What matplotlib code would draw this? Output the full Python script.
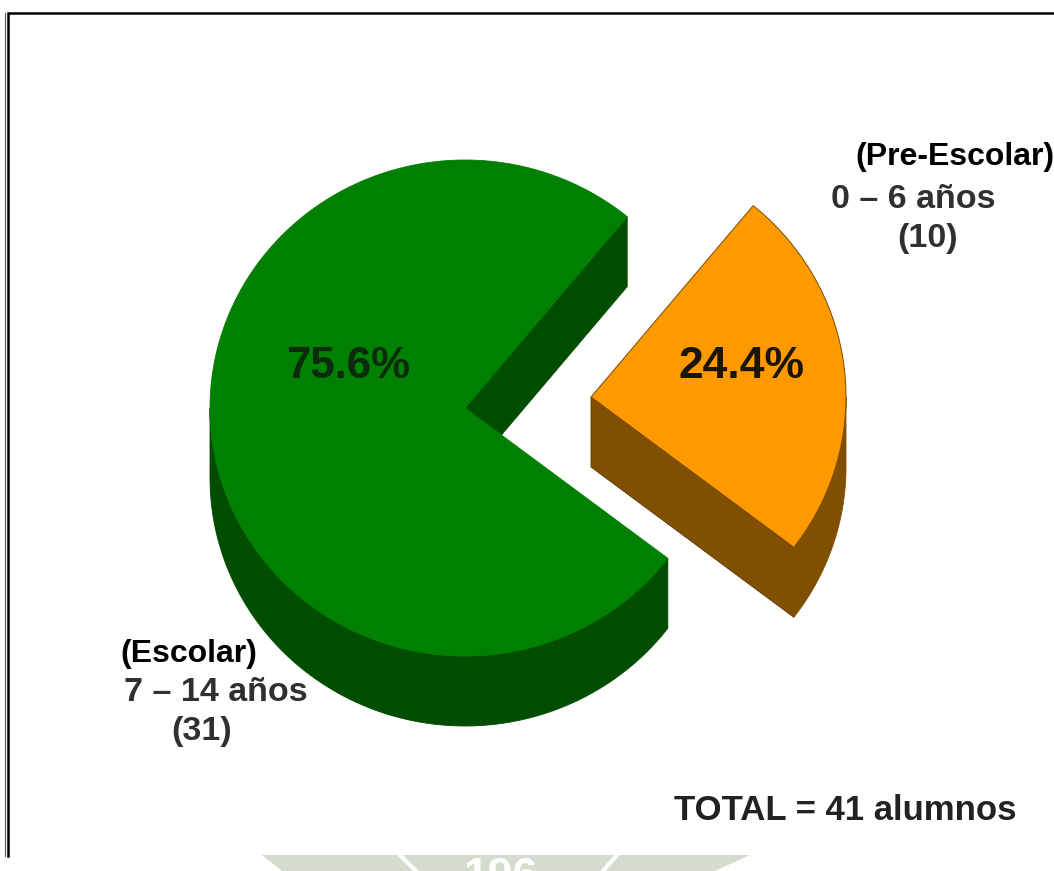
import numpy as np
import matplotlib
matplotlib.use("Agg")
import matplotlib.pyplot as plt
from matplotlib.patches import Polygon

plt.rcParams['font.family'] = ['Liberation Sans', 'DejaVu Sans']

# data
groups = ['Escolar', 'Pre-Escolar']
ages = ['7 – 14 años', '0 – 6 años']
counts = [31, 10]
total_label = 'TOTAL = 41 alumnos'

# pie geometry in pixels
rx, ry = 255, 248
depth = 70
start_angle = 50.5
green_center = (465, 408)
orange_center = (591, 397)


def arc(center, a0, a1, n=200):
    t = np.radians(np.linspace(a0, a1, n))
    return np.column_stack([center[0] + rx * np.cos(t), center[1] - ry * np.sin(t)])


def wall(center, a0, a1, color):
    # outer side of the slice, only the part facing the viewer
    pts = arc(center, a0, a1)
    low = pts + [0, depth]
    ax.add_patch(Polygon(np.vstack([pts, low[::-1]]), closed=True, fc=color, ec=color, lw=0.6))


def edge_wall(center, angle, color, ec):
    p = arc(center, angle, angle, 1)[0]
    c = np.array(center, dtype=float)
    ax.add_patch(Polygon([c, p, p + [0, depth], c + [0, depth]], closed=True, fc=color, ec=ec, lw=0.6))


fig = plt.figure(figsize=(10.54, 8.71), dpi=100)
ax = fig.add_axes([0, 0, 1, 1])
ax.set_xlim(0, 1054)
ax.set_ylim(871, 0)
ax.axis('off')

# frame, no right side, cut off at the bottom
ax.plot([1054, 8, 8], [13, 13, 856], color='black', lw=1.8, solid_joinstyle='miter')
ax.plot([5, 5], [13, 856], color='#555555', lw=0.8)

# page watermark showing under the frame
ax.add_patch(Polygon([(262, 855), (750, 855), (715, 871), (282, 871)], closed=True, fc='#d3dccd', ec='none'))
ax.plot([400, 416], [855, 871], color='white', lw=3)
ax.plot([617, 603], [855, 871], color='white', lw=3)
ax.text(500, 857, '196', fontsize=32, fontweight='bold', color='white', ha='center', va='top', clip_on=True)

angles = 360 * np.array(counts) / sum(counts)
green_end = start_angle + angles[0]
orange_end = green_end + angles[1]

# green slice
edge_wall(green_center, start_angle, '#004d00', '#004d00')
wall(green_center, 180, green_end, '#004d00')
top = np.vstack([[green_center], arc(green_center, start_angle, green_end, 400)])
ax.add_patch(Polygon(top, closed=True, fc='#008000', ec='#008000', lw=0.6))

# orange slice
edge_wall(orange_center, green_end, '#805000', '#5a3800')
wall(orange_center, green_end, 360, '#805000')
top = np.vstack([[orange_center], arc(orange_center, green_end, orange_end, 200)])
ax.add_patch(Polygon(top, closed=True, fc='#ff9900', ec='#7a4c00', lw=0.7))

# percentages
ax.text(348, 366, f'{100 * counts[0] / sum(counts):.1f}%', fontsize=31.5, fontweight='bold',
        color='#0c2a0c', ha='center', va='center')
ax.text(741, 366, f'{100 * counts[1] / sum(counts):.1f}%', fontsize=32, fontweight='bold',
        color='#1c1408', ha='center', va='center')

# labels
grey = '#303030'
ax.text(955, 157, f'({groups[1]})', fontsize=23, fontweight='bold', color='black', ha='center', va='center')
ax.text(913, 199, ages[1], fontsize=24.5, fontweight='bold', color=grey, ha='center', va='center')
ax.text(928, 238, f'({counts[1]})', fontsize=24.5, fontweight='bold', color=grey, ha='center', va='center')

ax.text(189, 654, f'({groups[0]})', fontsize=23, fontweight='bold', color='black', ha='center', va='center')
ax.text(216, 692, ages[0], fontsize=24.5, fontweight='bold', color=grey, ha='center', va='center')
ax.text(202, 731, f'({counts[0]})', fontsize=24.5, fontweight='bold', color=grey, ha='center', va='center')

ax.text(845, 810, total_label, fontsize=25, fontweight='bold', color='#222222', ha='center', va='center')

fig.savefig('out.png', dpi=100, facecolor='white')
